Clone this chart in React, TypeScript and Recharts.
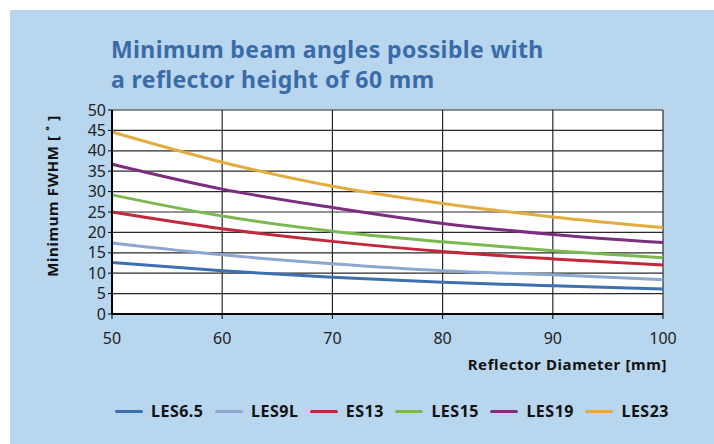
import { CartesianGrid, Line, LineChart, XAxis, YAxis } from 'recharts';

const diameters = [50, 60, 70, 80, 90, 100];
const les65 = [12.6, 10.6, 9.0, 7.8, 6.9, 6.1];
const les9l = [17.4, 14.5, 12.3, 10.6, 9.6, 8.4];
const es13 = [25.0, 20.9, 17.8, 15.3, 13.5, 12.0];
const les15 = [29.2, 24.0, 20.3, 17.7, 15.5, 13.8];
const les19 = [36.7, 30.6, 26.1, 22.2, 19.5, 17.5];
const les23 = [44.6, 37.2, 31.3, 27.1, 23.8, 21.2];
const yTicks = [0, 5, 10, 15, 20, 25, 30, 35, 40, 45, 50];
const xTicks = [50, 60, 70, 80, 90, 100];

const series = [
  { key: 'LES6.5', values: les65, color: '#3d70ae' },
  { key: 'LES9L', values: les9l, color: '#8ea6d2' },
  { key: 'ES13', values: es13, color: '#c1283b' },
  { key: 'LES15', values: les15, color: '#7cb852' },
  { key: 'LES19', values: les19, color: '#7b2d7e' },
  { key: 'LES23', values: les23, color: '#e2ac3e' },
];

const data = diameters.map((d, i) => {
  const row: Record<string, number> = { d };
  series.forEach((s) => {
    row[s.key] = s.values[i];
  });
  return row;
});

const font = '"Noto Sans", "Open Sans", sans-serif';

export default function App() {
  return (
    <div style={{ position: 'absolute', left: 0, top: 0, width: 714, height: 444, background: '#fff', fontFamily: font }}>
      <div style={{ position: 'absolute', left: 10, top: 10, width: 704, height: 434, background: '#b8d6ee' }} />
      <div
        style={{
          position: 'absolute',
          left: 111,
          top: 34,
          color: '#3a6ba9',
          fontSize: 23,
          fontWeight: 700,
          lineHeight: '30px',
          letterSpacing: 0.4,
          whiteSpace: 'nowrap',
        }}
      >
        Minimum beam angles possible with
        <br />
        a reflector height of 60 mm
      </div>
      <div style={{ position: 'absolute', left: 0, top: 0 }}>
        <LineChart width={714} height={444} data={data} margin={{ top: 110, right: 51, bottom: 100, left: 62 }}>
          <CartesianGrid stroke="#2a2a2a" strokeWidth={1.2} fill="#fff" fillOpacity={1} />
          <XAxis
            dataKey="d"
            type="number"
            domain={[50, 100]}
            ticks={xTicks}
            height={30}
            tickSize={5}
            tickMargin={14}
            axisLine={{ stroke: '#000', strokeWidth: 2 }}
            tickLine={{ stroke: '#000' }}
            tick={{ fill: '#222', fontSize: 16 }}
          />
          <YAxis
            type="number"
            domain={[0, 50]}
            ticks={yTicks}
            width={50}
            tickSize={4}
            tickMargin={2}
            interval={0}
            axisLine={{ stroke: '#000', strokeWidth: 2 }}
            tickLine={{ stroke: '#000' }}
            tick={{ fill: '#222', fontSize: 16 }}
          />
          {series.map((s) => (
            <Line
              key={s.key}
              type="monotone"
              dataKey={s.key}
              stroke={s.color}
              strokeWidth={3}
              dot={false}
              isAnimationActive={false}
            />
          ))}
        </LineChart>
      </div>
      <div
        style={{
          position: 'absolute',
          left: 52,
          top: 196,
          transform: 'translate(-50%, -50%) rotate(-90deg)',
          whiteSpace: 'nowrap',
          fontSize: 15,
          fontWeight: 700,
          letterSpacing: 0.6,
          color: '#111',
        }}
      >
        Minimum FWHM [ ˚ ]
      </div>
      <div
        style={{
          position: 'absolute',
          right: 714 - 667,
          top: 354,
          fontSize: 15,
          fontWeight: 700,
          letterSpacing: 0.6,
          color: '#111',
          whiteSpace: 'nowrap',
        }}
      >
        Reflector Diameter [mm]
      </div>
      <div
        style={{
          position: 'absolute',
          left: 115,
          width: 554,
          top: 400,
          display: 'flex',
          justifyContent: 'space-between',
          alignItems: 'center',
          fontSize: 16,
          fontWeight: 700,
          letterSpacing: 0.5,
          color: '#111',
        }}
      >
        {series.map((s) => (
          <div key={s.key} style={{ display: 'flex', alignItems: 'center' }}>
            <div style={{ width: 28, height: 3, borderRadius: 2, background: s.color, marginRight: 8 }} />
            <span>{s.key}</span>
          </div>
        ))}
      </div>
    </div>
  );
}
